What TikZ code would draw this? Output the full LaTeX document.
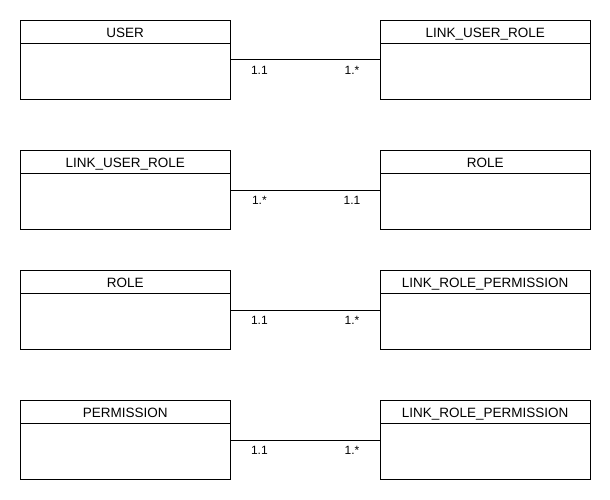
\documentclass[tikz,border=0pt]{standalone}
\usepackage{fontspec}
\setmainfont{Liberation Sans}
\begin{document}
\begin{tikzpicture}[x=1pt,y=-1pt,
  entity/.style={draw,line width=0.9pt,minimum width=209.5pt,minimum height=79pt,inner sep=0pt,anchor=north west},
  title/.style={font=\fontsize{13.5}{15}\selectfont,anchor=base,inner sep=0pt},
  card/.style={font=\fontsize{12}{14}\selectfont,anchor=base,inner sep=0pt},
  link/.style={line width=0.9pt}]
\useasboundingbox (0,0) rectangle (610,500);
\foreach \y/\ln/\lt/\rn/\rt/\ca/\cb in {
  20/e1l/USER/e1r/LINK\_USER\_ROLE/1.1/1.*,
  150/e2l/LINK\_USER\_ROLE/e2r/ROLE/1.*/1.1,
  270/e3l/ROLE/e3r/LINK\_ROLE\_PERMISSION/1.1/1.*,
  400/e4l/PERMISSION/e4r/LINK\_ROLE\_PERMISSION/1.1/1.*}{
  \node[entity] (\ln) at (20,\y) {};
  \node[entity] (\rn) at (380,\y) {};
  \draw[line width=0.9pt] ([yshift=-23pt]\ln.north west) -- ([yshift=-23pt]\ln.north east);
  \draw[line width=0.9pt] ([yshift=-23pt]\rn.north west) -- ([yshift=-23pt]\rn.north east);
  \node[title] (\ln t) at ([yshift=-17.5pt]\ln.north) {\lt};
  \node[title] (\rn t) at ([yshift=-17.5pt]\rn.north) {\rt};
  \draw[link] (\ln.east) -- (\rn.west);
  \node[card] (\ln c) at ([xshift=29pt,yshift=-14.5pt]\ln.east) {\ca};
  \node[card] (\rn c) at ([xshift=-28pt,yshift=-14.5pt]\rn.west) {\cb};
}
\end{tikzpicture}
\end{document}
